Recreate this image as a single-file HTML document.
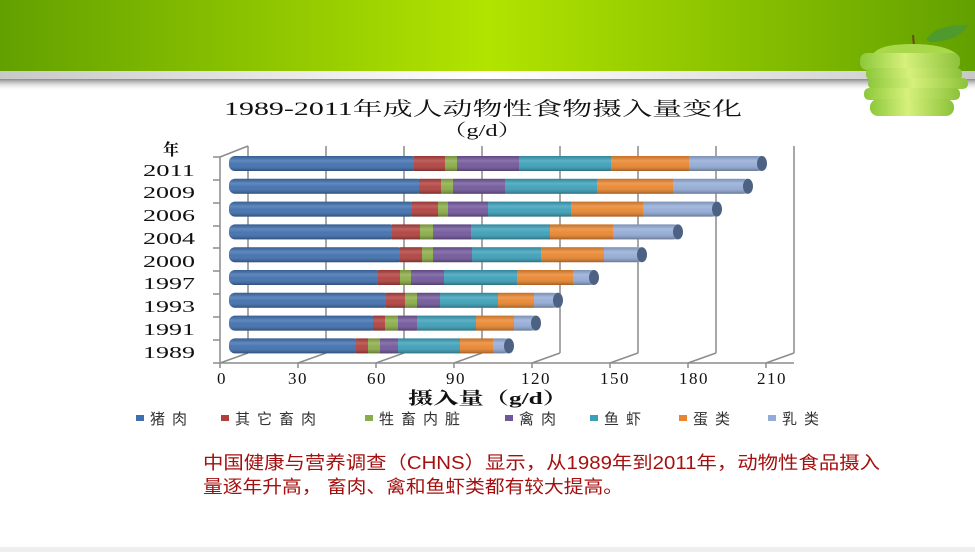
<!DOCTYPE html>
<html><head><meta charset="utf-8"><style>
html,body{margin:0;padding:0;background:#fff;}
body{width:975px;height:552px;overflow:hidden;position:relative;}
svg{position:absolute;left:0;top:0;}
</style></head><body>
<svg width="975" height="552" viewBox="0 0 975 552" xmlns="http://www.w3.org/2000/svg">
<defs>
<linearGradient id="hdr" x1="0" x2="1" y1="0" y2="0">
<stop offset="0" stop-color="#62a000"/><stop offset="0.5" stop-color="#b2e400"/><stop offset="1" stop-color="#62a000"/>
</linearGradient>
<linearGradient id="strip" x1="0" x2="1" y1="0" y2="0">
<stop offset="0" stop-color="#c8c8c8"/><stop offset="0.5" stop-color="#ffffff"/><stop offset="1" stop-color="#c8c8c8"/>
</linearGradient>
<linearGradient id="shad" x1="0" x2="0" y1="0" y2="1">
<stop offset="0" stop-color="#8a8a8a"/><stop offset="1" stop-color="#ffffff" stop-opacity="0"/>
</linearGradient>
<linearGradient id="cyl" x1="0" x2="0" y1="0" y2="1">
<stop offset="0" stop-color="#000" stop-opacity="0.15"/>
<stop offset="0.3" stop-color="#fff" stop-opacity="0.18"/>
<stop offset="0.55" stop-color="#fff" stop-opacity="0.05"/>
<stop offset="1" stop-color="#000" stop-opacity="0.3"/>
</linearGradient>
<linearGradient id="apple" x1="0" x2="1" y1="0" y2="0">
<stop offset="0" stop-color="#8cc83a"/><stop offset="0.45" stop-color="#d6f07c"/><stop offset="1" stop-color="#8cc23a"/>
</linearGradient>
</defs>
<rect x="0" y="0" width="975" height="71" fill="url(#hdr)"/>
<rect x="0" y="71" width="975" height="8" fill="url(#strip)"/>
<rect x="0" y="79" width="975" height="12" fill="url(#shad)"/>
<rect x="0" y="547" width="975" height="5" fill="#eeeeee"/>
<g>
<path d="M926 40 Q935 24 968 25 Q960 41 930 42 Z" fill="#4f9a2c"/>
<line x1="913" y1="35" x2="914" y2="46" stroke="#6b4a1a" stroke-width="2"/>
<path d="M873 54 Q880 44 912 44 Q944 44 957 54 Z" fill="#a9d84a"/>
<rect x="860" y="53" width="100" height="17" rx="7" fill="url(#apple)"/>
<rect x="866" y="68" width="96" height="12" rx="5" fill="url(#apple)"/>
<rect x="868" y="78" width="100" height="11" rx="5" fill="url(#apple)"/>
<rect x="864" y="88" width="96" height="12" rx="5" fill="url(#apple)"/>
<rect x="870" y="99" width="84" height="17" rx="8" fill="url(#apple)"/>
</g>
<g font-family="'Liberation Serif','Noto Serif CJK SC',serif" fill="#111">
<text x="224" y="115" font-size="19" textLength="518" lengthAdjust="spacingAndGlyphs">1989-2011年成人动物性食物摄入量变化</text>
<text x="482" y="136" font-size="17" text-anchor="middle" textLength="80" lengthAdjust="spacingAndGlyphs">（g/d）</text>
<text x="163" y="155" font-size="16" font-weight="bold">年</text>
<g font-size="17">
<text x="143" y="176" textLength="52" lengthAdjust="spacingAndGlyphs">2011</text><text x="143" y="198" textLength="52" lengthAdjust="spacingAndGlyphs">2009</text><text x="143" y="221" textLength="52" lengthAdjust="spacingAndGlyphs">2006</text>
<text x="143" y="244" textLength="52" lengthAdjust="spacingAndGlyphs">2004</text><text x="143" y="267" textLength="52" lengthAdjust="spacingAndGlyphs">2000</text><text x="143" y="289" textLength="52" lengthAdjust="spacingAndGlyphs">1997</text>
<text x="143" y="312" textLength="52" lengthAdjust="spacingAndGlyphs">1993</text><text x="143" y="335" textLength="52" lengthAdjust="spacingAndGlyphs">1991</text><text x="143" y="358" textLength="52" lengthAdjust="spacingAndGlyphs">1989</text>
</g>
<g font-size="17" text-anchor="middle" letter-spacing="1.5">
<text x="222" y="384">0</text><text x="298" y="384">30</text><text x="377" y="384">60</text>
<text x="456" y="384">90</text><text x="536" y="384">120</text><text x="615" y="384">150</text>
<text x="694" y="384">180</text><text x="772" y="384">210</text>
</g>
<text x="408" y="404" font-size="17" font-weight="bold" textLength="160" lengthAdjust="spacingAndGlyphs">摄入量（g/d）</text>
</g>
<g stroke="#8c8c8c" stroke-width="1.5" fill="none">
<line x1="220" y1="157" x2="220" y2="363"/>
<line x1="248" y1="146" x2="248" y2="353"/>
<line x1="220" y1="157" x2="248" y2="146"/>
<line x1="220" y1="363" x2="794" y2="363"/>
<path d="M326 146V353M404 146V353M482 146V353M560 146V353M638 146V353M716 146V353M794 146V353"/>
<path d="M220 363L248 353M298 363L326 353M376 363L404 353M454 363L482 353M532 363L560 353M610 363L638 353M688 363L716 353M766 363L794 353"/>
<path d="M298 363v5M376 363v5M454 363v5M532 363v5M610 363v5M688 363v5M766 363v5M220 363v5"/>
<path d="M213 157h7M213 180h7M213 203h7M213 226h7M213 248h7M213 271h7M213 294h7M213 317h7M213 340h7M213 363h7"/>
</g>
<g id="bars"></g>
<g font-family="'Liberation Sans','Noto Sans CJK SC',sans-serif" font-size="15" fill="#333" letter-spacing="7">
<rect x="136" y="415" width="8" height="6" fill="#3f6fae"/><text x="150" y="424">猪肉</text>
<rect x="221" y="415" width="8" height="6" fill="#b0403d"/><text x="235" y="424">其它畜肉</text>
<rect x="365" y="415" width="8" height="6" fill="#8aac46"/><text x="379" y="424">牲畜内脏</text>
<rect x="505" y="415" width="8" height="6" fill="#71569a"/><text x="519" y="424">禽肉</text>
<rect x="590" y="415" width="8" height="6" fill="#3b9fb8"/><text x="604" y="424">鱼虾</text>
<rect x="679" y="415" width="8" height="6" fill="#e9852e"/><text x="693" y="424">蛋类</text>
<rect x="768" y="415" width="8" height="6" fill="#93abd6"/><text x="782" y="424">乳类</text>
</g>
<g font-family="'Liberation Sans','Noto Sans CJK SC',sans-serif" font-size="18" fill="#a50f0f">
<text x="203" y="469" textLength="677" lengthAdjust="spacingAndGlyphs">中国健康与营养调查（CHNS）显示，从1989年到2011年，动物性食品摄入</text>
<text x="203" y="493" textLength="420" lengthAdjust="spacingAndGlyphs">量逐年升高， 畜肉、禽和鱼虾类都有较大提高。</text>
</g>
</svg>
<script>
var cols=["#3f6fae","#b0403d","#8aac46","#71569a","#3b9fb8","#e9852e","#93abd6"];
var rows=[
[414,445,457,519,611,689,762],
[419,441,453,505,597,673,748],
[412,438,448,488,571,643,717],
[392,420,433,471,550,613,678],
[400,422,433,472,541,604,642],
[378,400,411,444,517,573,594],
[386,405,417,440,498,534,558],
[373,385,398,417,476,514,536],
[356,368,380,398,460,493,509]];
var ns="http://www.w3.org/2000/svg",g=document.getElementById("bars");
function el(t,a){var e=document.createElementNS(ns,t);for(var k in a)e.setAttribute(k,a[k]);g.appendChild(e);return e;}
rows.forEach(function(r,i){
 var y=156+i*22.8,h=15,x0=229;
 for(var s=0;s<7;s++){
  var xa=s==0?x0:r[s-1],xb=r[s];
  if(s==0){el("rect",{x:xa,y:y,width:xb-xa+4,height:h,rx:6,fill:cols[0]});}
  else el("rect",{x:xa,y:y,width:xb-xa,height:h,fill:cols[s]});
 }
 el("rect",{x:x0,y:y,width:r[6]-x0,height:h,rx:6,fill:"url(#cyl)"});
 el("ellipse",{cx:r[6],cy:y+h/2,rx:5,ry:h/2,fill:"#4d6282"});
});
</script>
</body></html>
